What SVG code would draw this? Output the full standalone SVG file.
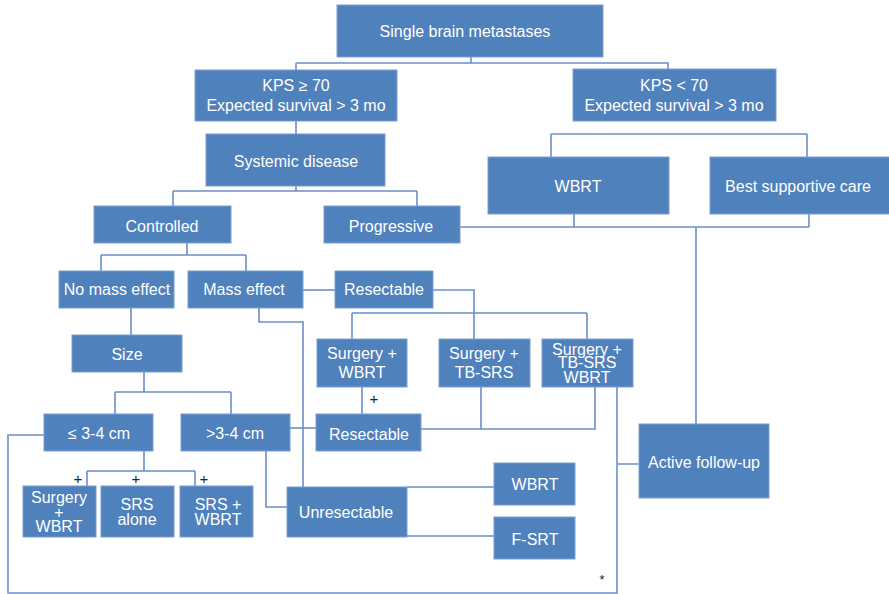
<svg xmlns="http://www.w3.org/2000/svg" width="889" height="594" viewBox="0 0 889 594">
<style>
.n rect{fill:#4f81bd;stroke:#7a9fd0;stroke-width:1}
.n text{fill:#fff;font-family:"Liberation Sans",Arial,sans-serif;font-size:16px;text-anchor:middle}
.c path{fill:none;stroke:#6b90c8;stroke-width:1.6}
.m{fill:#222;font-family:"Liberation Sans",Arial,sans-serif;font-size:15px;text-anchor:middle}
</style>
<rect width="889" height="594" fill="#fff"/>
<g class="c">
<path d="M471 57V63M296 63H668V69M296 63V70"/>
<path d="M296 121V134"/>
<path d="M551 134H807M551 134V157M807 134V157"/>
<path d="M296 186V191M173 191H417M173 191V206M417 191V206"/>
<path d="M574 214V227M809 214V227M460 227H809M696 227V425"/>
<path d="M187 243V255M101 255H246M101 255V271M246 255V271"/>
<path d="M303 290H335"/>
<path d="M433 290H474V339M352 313H587M352 313V339M587 313V339"/>
<path d="M131 308V335M144 372V392M115 392H231M115 392V414M231 392V414"/>
<path d="M259 308V322H303V487"/>
<path d="M144 451V471M87 471H195M87 471V486M195 471V486"/>
<path d="M290 428H316"/>
<path d="M362 387V414M481 387V429M421 429H595V387"/>
<path d="M266 451V507H287"/>
<path d="M407 487H494M407 536H494"/>
<path d="M617 387V593H8V435H44M617 464H639"/>
</g>
<g id="n1" class="n"><rect x="337" y="5" width="266" height="52"/><text x="465" y="37">Single brain metastases</text></g>
<g id="n2" class="n"><rect x="195" y="70" width="202" height="51"/><text x="296" y="91">KPS ≥ 70</text><text x="296" y="111">Expected survival &gt; 3 mo</text></g>
<g id="n3" class="n"><rect x="573" y="69" width="203" height="52"/><text x="674" y="91">KPS &lt; 70</text><text x="674" y="111">Expected survival &gt; 3 mo</text></g>
<g id="n4" class="n"><rect x="206" y="134" width="179" height="52"/><text x="296" y="167">Systemic disease</text></g>
<g id="n5" class="n"><rect x="488" y="157" width="181" height="57"/><text x="578" y="192">WBRT</text></g>
<g id="n6" class="n"><rect x="710" y="157" width="182" height="57"/><text x="798" y="192">Best supportive care</text></g>
<g id="n7" class="n"><rect x="94" y="206" width="137" height="37"/><text x="162" y="232">Controlled</text></g>
<g id="n8" class="n"><rect x="324" y="206" width="136" height="37"/><text x="391" y="232">Progressive</text></g>
<g id="n9" class="n"><rect x="59" y="271" width="115" height="37"/><text x="117" y="295">No mass effect</text></g>
<g id="n10" class="n"><rect x="188" y="271" width="115" height="37"/><text x="244" y="295">Mass effect</text></g>
<g id="n11" class="n"><rect x="335" y="271" width="98" height="37"/><text x="384" y="295">Resectable</text></g>
<g id="n12" class="n"><rect x="72" y="335" width="110" height="37"/><text x="127" y="360">Size</text></g>
<g id="n13" class="n"><rect x="317" y="339" width="90" height="48"/><text x="362" y="359">Surgery +</text><text x="362" y="378">WBRT</text></g>
<g id="n14" class="n"><rect x="439" y="339" width="91" height="48"/><text x="484" y="359">Surgery +</text><text x="484" y="378">TB-SRS</text></g>
<g id="n15" class="n"><rect x="542" y="339" width="91" height="48"/><text x="587" y="355">Surgery +</text><text x="587" y="368">TB-SRS</text><text x="587" y="383">WBRT</text></g>
<g id="n16" class="n"><rect x="44" y="414" width="109" height="37"/><text x="99" y="439">≤ 3-4 cm</text></g>
<g id="n17" class="n"><rect x="181" y="414" width="109" height="37"/><text x="235" y="439">&gt;3-4 cm</text></g>
<g id="n18" class="n"><rect x="316" y="414" width="105" height="37"/><text x="369" y="440">Resectable</text></g>
<g id="n19" class="n"><rect x="639" y="424" width="130" height="74"/><text x="704" y="468">Active follow-up</text></g>
<g id="n20" class="n"><rect x="494" y="463" width="81" height="42"/><text x="535" y="490">WBRT</text></g>
<g id="n21" class="n"><rect x="287" y="487" width="120" height="50"/><text x="346" y="518">Unresectable</text></g>
<g id="n22" class="n"><rect x="494" y="517" width="81" height="42"/><text x="535" y="545">F-SRT</text></g>
<g id="n23" class="n"><rect x="23" y="486" width="73" height="51"/><text x="59" y="503">Surgery</text><text x="59" y="518">+</text><text x="59" y="532">WBRT</text></g>
<g id="n24" class="n"><rect x="101" y="486" width="73" height="51"/><text x="137" y="510">SRS</text><text x="137" y="525">alone</text></g>
<g id="n25" class="n"><rect x="180" y="486" width="73" height="51"/><text x="218" y="510">SRS +</text><text x="218" y="525">WBRT</text></g>
<g id="marks">
<text class="m" x="78" y="484">+</text>
<text class="m" x="136" y="484">+</text>
<text class="m" x="204" y="484">+</text>
<text class="m" x="374" y="404">+</text>
<text class="m" x="602" y="584" style="font-size:13px">*</text>
</g>
</svg>
